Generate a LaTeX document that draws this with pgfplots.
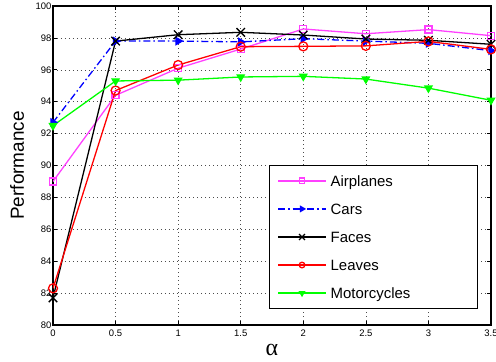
\documentclass[border=0pt]{standalone}
\usepackage{fontspec}
\setmainfont{Liberation Sans}
\newfontfamily\serifg{Liberation Serif}
\usepackage{pgfplots}
\pgfplotsset{compat=1.18}
\definecolor{mag}{rgb}{1,0.25,1}
\newcommand{\lgent}[1]{\makebox[138bp][l]{\strut #1}}
\begin{document}
\begin{tikzpicture}[x=1bp,y=1bp]
\begin{axis}[
  at={(0,0)}, anchor=south west,
  scale only axis, width=438bp, height=319bp,
  xmin=0, xmax=3.5, ymin=80, ymax=100,
  xtick={0,0.5,...,3.5}, ytick={80,82,...,100},
  xticklabels={0,0.5,1,1.5,2,2.5,3,3.5},
  grid=major, grid style={dash pattern=on 1bp off 3bp, black!70, line width=0.5pt},
  axis line style={line width=1.3pt},
  tick style={black, line width=0.7pt}, tick align=inside, major tick length=4bp,
  ticklabel style={font=\fontsize{9.5}{10}\selectfont, inner sep=1.5bp},
  xticklabel style={yshift=-3bp},
  /pgf/number format/assume math mode=true,
  xlabel={\serifg\fontsize{24}{24}\selectfont α},
  every axis x label/.style={at={(axis description cs:0.5,-0.078)}, anchor=center},
  ylabel={\fontsize{19}{19}\selectfont Performance},
  every axis y label/.style={at={(axis description cs:-0.082,0.5)}, anchor=center, rotate=90},
  legend style={at={(0.493,0.05)}, anchor=south west, draw=black, line width=0.9pt,
    font=\fontsize{15}{18}\selectfont, row sep=12bp, column sep=3bp, inner xsep=8bp, inner ysep=7.5bp,
    nodes={inner sep=1bp}},
  legend cell align=left,
  legend image code/.code={\draw[#1, line width=1.3pt] (0bp,0bp) -- (48bp,0bp); \draw[#1, solid, mark size=2.8bp] plot coordinates {(24bp,0bp)};},
  every axis plot/.append style={line width=1.3pt},
]
\addplot[mag, mark=square, mark size=3.5bp, mark options={solid}] coordinates {
(0,89.0)(0.5,94.4)(1,96.1)(1.5,97.3)(2,98.56)(2.5,98.26)(3,98.52)(3.5,98.14)};
\addlegendentry{\lgent{Airplanes}}
\addplot[blue, dash pattern=on 7bp off 3bp on 1.5bp off 3bp, mark=triangle*, mark size=4bp, mark options={solid, rotate=-90}] coordinates {
(0,92.7)(0.5,97.8)(1,97.8)(1.5,97.75)(2,97.95)(2.5,97.8)(3,97.66)(3.5,97.2)};
\addlegendentry{\lgent{Cars}}
\addplot[black, mark=x, mark options={solid, scale=1.5}, mark size=4bp] coordinates {
(0,81.7)(0.5,97.8)(1,98.2)(1.5,98.35)(2,98.18)(2.5,97.93)(3,97.85)(3.5,97.6)};
\addlegendentry{\lgent{Faces}}
\addplot[red, mark=o, mark size=4.5bp, mark options={solid}] coordinates {
(0,82.3)(0.5,94.7)(1,96.3)(1.5,97.45)(2,97.47)(2.5,97.5)(3,97.78)(3.5,97.28)};
\addlegendentry{\lgent{Leaves}}
\addplot[green, mark=triangle*, mark size=4bp, mark options={solid, rotate=180}] coordinates {
(0,92.5)(0.5,95.3)(1,95.35)(1.5,95.55)(2,95.59)(2.5,95.42)(3,94.85)(3.5,94.09)};
\addlegendentry{\lgent{Motorcycles}}
\end{axis}
\pgfresetboundingbox
\path (-53bp,-37bp) rectangle (443bp,325bp);
\end{tikzpicture}
\end{document}
